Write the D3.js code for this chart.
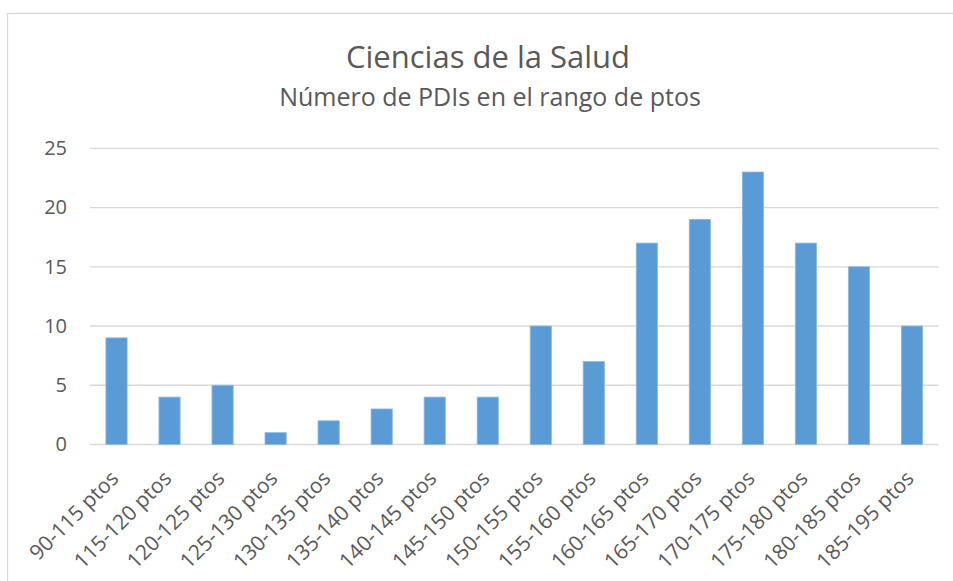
<!DOCTYPE html>
<html>
<head>
<meta charset="utf-8">
<script src="https://cdn.jsdelivr.net/npm/d3@7"></script>
<style>
  body { margin: 0; background: #fff; }
  text { font-family: "Open Sans", sans-serif; fill: #595959; }
</style>
</head>
<body>
<div id="vis"></div>
<script>
const FRAME_WIDTH = 953;
const FRAME_HEIGHT = 581;
const MARGINS = {left: 90, right: 14.5, top: 148.3, bottom: 136.5};
const VIS_WIDTH = FRAME_WIDTH - MARGINS.left - MARGINS.right;
const VIS_HEIGHT = FRAME_HEIGHT - MARGINS.top - MARGINS.bottom;

const TITLE = "Ciencias de la Salud";
const SUBTITLE = "Número de PDIs en el rango de ptos";
const CATEGORIES = ["90-115 ptos", "115-120 ptos", "120-125 ptos", "125-130 ptos",
  "130-135 ptos", "135-140 ptos", "140-145 ptos", "145-150 ptos", "150-155 ptos",
  "155-160 ptos", "160-165 ptos", "165-170 ptos", "170-175 ptos", "175-180 ptos",
  "180-185 ptos", "185-195 ptos"];
const VALUES = [9, 4, 5, 1, 2, 3, 4, 4, 10, 7, 17, 19, 23, 17, 15, 10];
const Y_TICKS = [0, 5, 10, 15, 20, 25];

const X_SCALE = d3.scaleBand()
  .domain(CATEGORIES)
  .range([0, VIS_WIDTH])
  .paddingInner(0.6)
  .paddingOuter(0.3);

const Y_SCALE = d3.scaleLinear()
  .domain([0, 25])
  .range([VIS_HEIGHT, 0]);

const FRAME = d3.select("#vis")
  .append("svg")
    .attr("width", FRAME_WIDTH)
    .attr("height", FRAME_HEIGHT);

// chart border
FRAME.append("rect")
  .attr("x", 7.5)
  .attr("y", 13.5)
  .attr("width", 980)
  .attr("height", 620)
  .attr("fill", "none")
  .attr("stroke", "#d9d9d9")
  .attr("stroke-width", 1.3);

// titles
FRAME.append("text")
  .attr("x", 488)
  .attr("y", 68)
  .attr("text-anchor", "middle")
  .style("font-size", "31px")
  .text(TITLE);

FRAME.append("text")
  .attr("x", 490)
  .attr("y", 106)
  .attr("text-anchor", "middle")
  .style("font-size", "25px")
  .text(SUBTITLE);

const G = FRAME.append("g")
  .attr("transform", "translate(" + MARGINS.left + "," + MARGINS.top + ")");

// gridlines
G.selectAll(".grid")
  .data(Y_TICKS)
  .enter()
  .append("line")
    .attr("x1", 0)
    .attr("x2", VIS_WIDTH)
    .attr("y1", (d) => Y_SCALE(d))
    .attr("y2", (d) => Y_SCALE(d))
    .attr("stroke", "#d9d9d9")
    .attr("stroke-width", 1.3);

// bars
G.selectAll(".bar")
  .data(VALUES)
  .enter()
  .append("rect")
    .attr("x", (d, i) => X_SCALE(CATEGORIES[i]))
    .attr("y", (d) => Y_SCALE(d))
    .attr("width", X_SCALE.bandwidth())
    .attr("height", (d) => VIS_HEIGHT - Y_SCALE(d))
    .attr("fill", "#5b9bd5")
    .attr("stroke", "#8fb9e2")
    .attr("stroke-width", 0.8);

// y axis
const Y_AXIS = G.append("g")
  .call(d3.axisLeft(Y_SCALE).tickValues(Y_TICKS).tickSize(0).tickPadding(23));
Y_AXIS.select(".domain").remove();
Y_AXIS.selectAll("text")
  .style("font-size", "20px")
  .attr("fill", "#595959");

// x axis
const X_AXIS = G.append("g")
  .attr("transform", "translate(0," + VIS_HEIGHT + ")")
  .call(d3.axisBottom(X_SCALE).tickSize(0));
X_AXIS.select(".domain").remove();
X_AXIS.selectAll("text")
  .attr("x", 0)
  .attr("y", 0)
  .attr("dy", "0.35em")
  .attr("transform", "translate(-2,30) rotate(-45)")
  .attr("text-anchor", "end")
  .attr("fill", "#595959")
  .style("font-size", "21px");
</script>
</body>
</html>
